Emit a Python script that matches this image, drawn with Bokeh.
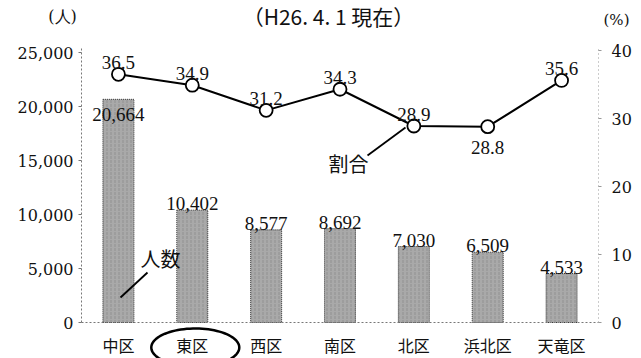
from bokeh.plotting import figure
from bokeh.models import (Range1d, LinearAxis, FixedTicker, NumeralTickFormatter,
                          ColumnDataSource, Label, LabelSet, PolyAnnotation)
from bokeh.embed import file_html
from bokeh.resources import INLINE
import numpy as np

# ---- data ----
districts = ["中区", "東区", "西区", "南区", "北区", "浜北区", "天竜区"]
people = [20664, 10402, 8577, 8692, 7030, 6509, 4533]
ratio = [36.5, 34.9, 31.2, 34.3, 28.9, 28.8, 35.6]
people_ticks = [0, 5000, 10000, 15000, 20000, 25000]
ratio_ticks = [0, 10, 20, 30, 40]
title_text = "（H26. 4. 1 現在）"
people_unit = "(人)"
ratio_unit = "(%)"
people_name = "人数"
ratio_name = "割合"
highlight = "東区"

SERIF = "DejaVu Serif"
JP = "Noto Sans CJK JP"

W, H = 641, 358
# frame geometry (pixels): category band from 81 to 598, 0 at 322, 25000 at 52, 40% at 50
X0, X1, Y0 = 81, 598, 322
ncat = len(districts)
ppu_x = (X1 - X0) / ncat
ppu_n = 270 / 25000
ppu_r = 272 / 40


def dx(px):
    return (px - X0) / ppu_x


def dn(py):
    return (Y0 - py) / ppu_n


def dr(py):
    return (Y0 - py) / ppu_r


xpos = [i + 0.5 for i in range(ncat)]
people_lbl = [f"{v:,}" for v in people]
people_dy = [-22 if i == 0 else 0 for i in range(ncat)]
ratio_lbl = [f"{v:.1f}" for v in ratio]
ratio_dy = [-27 if i == 5 else 5 for i in range(ncat)]

src = ColumnDataSource(dict(x=xpos, d=districts, n=people, r=ratio, nl=people_lbl, ndy=people_dy,
                            rl=ratio_lbl, rdy=ratio_dy))

p = figure(x_range=Range1d(dx(0), dx(W)), y_range=Range1d(dn(H), dn(0)),
           width=W, height=H, output_backend="svg", toolbar_location=None,
           x_axis_location=None, y_axis_location=None,
           min_border=0, min_border_left=0, min_border_right=0,
           min_border_top=0, min_border_bottom=0)
p.extra_y_ranges = {"pct": Range1d(dr(H), dr(0))}
p.outline_line_color = None
p.xgrid.visible = False
p.ygrid.visible = False
p.background_fill_color = "white"
p.border_fill_color = "white"

# left axis (people)
ya = LinearAxis(fixed_location=0, bounds=(0, dn(48)), ticker=FixedTicker(ticks=people_ticks),
                formatter=NumeralTickFormatter(format="0,0"))
ya.major_label_text_font = SERIF
ya.major_label_text_font_size = "16px"
ya.major_label_text_color = "#111"
ya.axis_line_color = "#777"
ya.axis_line_dash = "2 2"
ya.major_tick_in = 0
ya.major_tick_out = 3
ya.major_tick_line_color = "#777"
ya.minor_tick_line_color = None
ya.major_label_standoff = 5
p.add_layout(ya, "left")

# bottom axis (districts)
xa = LinearAxis(fixed_location=0, bounds=(0, ncat), ticker=FixedTicker(ticks=xpos),
                major_label_overrides={x: d for x, d in zip(xpos, districts)})
xa.major_label_text_font = JP
xa.major_label_text_font_size = "16px"
xa.major_label_text_color = "#111"
xa.axis_line_color = "#777"
xa.axis_line_dash = "2 2"
xa.major_tick_line_color = None
xa.minor_tick_line_color = None
xa.major_tick_out = 0
xa.major_tick_in = 0
xa.major_label_standoff = 10
p.add_layout(xa, "below")

# right axis (ratio)
ra = LinearAxis(y_range_name="pct", fixed_location=ncat, bounds=(0, 40.5),
                ticker=FixedTicker(ticks=ratio_ticks))
ra.major_label_text_font = SERIF
ra.major_label_text_font_size = "16px"
ra.major_label_text_color = "#111"
ra.axis_line_color = "#999"
ra.axis_line_dash = "1 3"
ra.major_tick_in = 0
ra.major_tick_out = 3
ra.major_tick_line_color = "#999"
ra.minor_tick_line_color = None
ra.major_label_standoff = 10
p.add_layout(ra, "right")

# bars
p.vbar(x="x", top="n", width=0.42, source=src, fill_color="#a9a9a9",
       line_color="#333", line_dash="1 1", line_width=1,
       hatch_pattern=":", hatch_color="#777", hatch_alpha=0.5, hatch_scale=4)

p.add_layout(LabelSet(x="x", y="n", text="nl", y_offset="ndy", source=src,
                      text_align="center", text_baseline="bottom",
                      text_font=SERIF, text_font_size="19px", text_color="#111"))

# ratio line
p.line(x="x", y="r", source=src, y_range_name="pct", line_color="black", line_width=2)
p.scatter(x="x", y="r", source=src, y_range_name="pct", size=13,
          fill_color="white", line_color="black", line_width=1.8)
p.add_layout(LabelSet(x="x", y="r", text="rl", y_offset="rdy", source=src, y_range_name="pct",
                      text_align="center", text_baseline="bottom",
                      text_font=SERIF, text_font_size="19px", text_color="#111"))

# leader lines and series names
p.segment(x0=[dx(367), dx(147)], y0=[dr(155), dr(272)], x1=[dx(405), dx(120)], y1=[dr(127), dr(297)],
          y_range_name="pct", line_color="black", line_width=1.8)
p.add_layout(Label(x=dx(348), y=dr(163), y_range_name="pct", text=ratio_name, text_align="center",
                   text_baseline="middle", text_font=JP, text_font_size="20px", text_color="#111"))
p.add_layout(Label(x=dx(160), y=dr(258), y_range_name="pct", text=people_name, text_align="center",
                   text_baseline="middle", text_font=JP, text_font_size="20px", text_color="#111"))

# units and title
p.add_layout(Label(x=dx(62), y=dr(16), y_range_name="pct", text=people_unit, text_align="center",
                   text_baseline="middle", text_font=SERIF, text_font_size="16px", text_color="#111"))
p.add_layout(Label(x=dx(616), y=dr(19), y_range_name="pct", text=ratio_unit, text_align="center",
                   text_baseline="middle", text_font=SERIF, text_font_size="15px", text_color="#111"))
p.add_layout(Label(x=dx(328), y=dr(0), y_range_name="pct", text=title_text, text_align="center",
                   text_baseline="top", text_font=JP, text_font_size="21px", text_color="#111"))

# ellipse around highlighted district
hi = districts.index(highlight) + 0.5 + 3 / ppu_x
t = np.linspace(0, 2 * np.pi, 90)
p.add_layout(PolyAnnotation(xs=list(hi + (44 / ppu_x) * np.cos(t)),
                            ys=list(dn(347) + (19 / ppu_n) * np.sin(t)),
                            fill_color=None, fill_alpha=0, line_color="black",
                            line_alpha=1.0, line_width=2.5))

open("out.html", "w").write(file_html(p, INLINE))
